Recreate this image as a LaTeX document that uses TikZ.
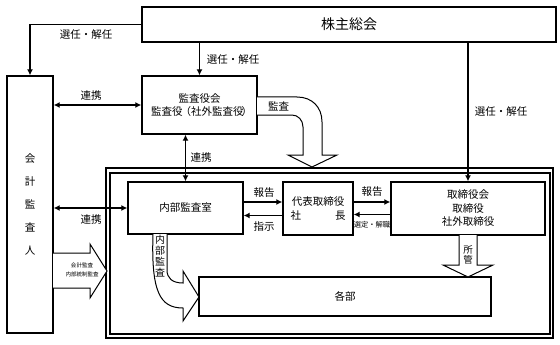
\documentclass[tikz,border=0pt]{standalone}
\usepackage{fontspec}
\setmainfont{Noto Sans CJK JP}
\usetikzlibrary{arrows.meta}
\begin{document}
\begin{tikzpicture}[x=1pt,y=-1pt,
  box/.style={draw,line width=1.4pt,fill=white,inner sep=0pt,align=center,font=\fontsize{10.5}{13.5}\selectfont},
  lbl/.style={inner sep=0pt,font=\fontsize{10.5}{12}\selectfont},
  arr/.style={line width=1.2pt,-{Latex[length=6pt,width=6pt]}},
  dbl/.style={line width=1.2pt,{Latex[length=6pt,width=6pt]}-{Latex[length=6pt,width=6pt]}},
  fat/.style={draw,line width=1pt,fill=white,line join=miter},
  frame/.style={draw,line width=1.3pt}]
\useasboundingbox (0,0) rectangle (560,345);
% frame
\draw[frame] (106,168) rectangle (553,338);
\draw[frame] (110,173) rectangle (550,334);
% boxes
\node[box,minimum width=414pt,minimum height=35pt,font=\fontsize{14}{16}\selectfont] (gm) at (349,24.5) {株主総会};
\node[box,minimum width=46pt,minimum height=257pt,font=\fontsize{10.5}{23}\selectfont] (aud) at (30,204.5) {会\\計\\監\\査\\人};
\node[box,minimum width=115pt,minimum height=58pt] (kansa) at (199.5,105) {監査役会\\監査役\kern-2pt（社外監査役\kern-2pt）\kern-4pt};
\node[box,minimum width=115pt,minimum height=52pt] (naibu) at (185.5,208) {内部監査室};
\node[box,minimum width=70pt,minimum height=53pt] (daihyo) at (318,208.5) {代表取締役\\\makebox[55pt]{社\hfill 長}};
\node[box,minimum width=154pt,minimum height=53pt] (tori) at (468,208.5) {取締役会\\取締役\\社外取締役};
\node[box,minimum width=292pt,minimum height=39pt] (kakubu) at (345,296.5) {各部};
% connectors
\draw[arr] (gm.west) -| (aud.north);
\draw[arr] (kansa.north |- gm.south) -- (kansa.north);
\draw[arr] (tori.north |- gm.south) -- (tori.north);
\draw[dbl] (aud.east |- kansa.west) -- (kansa.west);
\draw[dbl] (naibu.north |- kansa.south) -- (naibu.north);
\draw[dbl] (aud.east |- naibu.west) -- (naibu.west);
\draw[arr] ([yshift=6pt]naibu.east) -- ([yshift=6pt]naibu.east -| daihyo.west);
\draw[arr] ([yshift=-7pt]daihyo.west) -- ([yshift=-7pt]daihyo.west -| naibu.east);
\draw[arr] ([yshift=6.5pt]daihyo.east) -- ([yshift=6.5pt]daihyo.east -| tori.west);
\draw[arr] ([yshift=-6pt]tori.west) -- ([yshift=-6pt]tori.west -| daihyo.east);
% fat arrows
\draw[fat] (257,97) -- (297,97) .. controls (312,97) and (322,107) .. (322,122) -- (322,155) -- (337,155) -- (312,167) -- (288,155) -- (303,155) -- (303,127) .. controls (303,120) and (298,115) .. (292,115) -- (257,115);
\draw[fat] (53,253) -- (90,253) -- (90,244) -- (107,271) -- (90,298) -- (90,288) -- (53,288);
\draw[fat] (459,235) -- (459,265) -- (443,265) -- (468,277) -- (493,265) -- (477,265) -- (477,235);
\draw[fat] (153,234) .. controls (151,292) and (160,308) .. (183,308) -- (183,321) -- (199,297) -- (183,271) -- (183,283) .. controls (172,283) and (167,278) .. (167,270) -- (167,234);
% labels
\node[lbl] (l1) at (86,35) {選任・解任};
\node[lbl] (l2) at (233,60) {選任・解任};
\node[lbl] (l3) at (501,112) {選任・解任};
\node[lbl] (l4) at (91,96) {連携};
\node[lbl] (l5) at (201,158) {連携};
\node[lbl] (l6) at (91,220) {連携};
\node[lbl] (l7) at (278.5,106) {監査};
\node[lbl] (l8) at (264,193) {報告};
\node[lbl] (l9) at (264,227) {指示};
\node[lbl] (l10) at (372,192) {報告};
\node[lbl,font=\fontsize{7.3}{8}\selectfont] (l11) at (372,225) {選定・解職};
\node[lbl,align=center,font=\fontsize{5.5}{9}\selectfont] (l12) at (82,269.5) {会計監査\\内部統制監査};
\node[lbl,align=center,font=\fontsize{9.5}{10}\selectfont] (l13) at (468,255) {所\\管};
\node[lbl,align=center,fill=white,inner sep=0.5pt,font=\fontsize{10}{11}\selectfont] (l14) at (160,256.5) {内\\部\\監\\査};
\end{tikzpicture}
\end{document}
